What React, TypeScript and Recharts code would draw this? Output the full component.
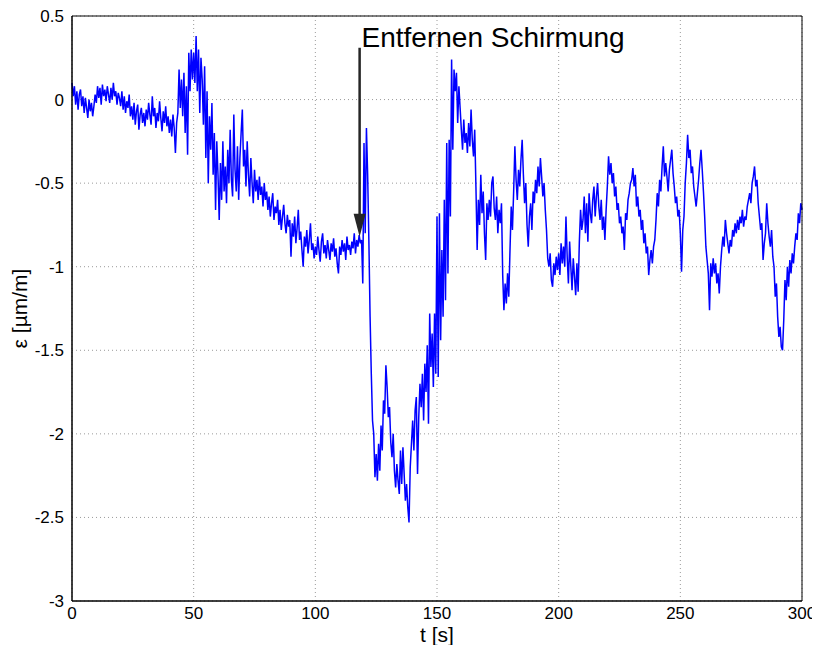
import React from "react";
import {
  LineChart,
  Line,
  XAxis,
  YAxis,
  CartesianGrid,
  ReferenceLine,
  ReferenceDot,
} from "recharts";

// strain in µm/m, one sample every 0.5 s
const T_STEP = 0.5;

const strain000 = [
  0.1, 0.02, 0.08, -0.03, 0.05, -0.06, 0.03, 0.06, -0.04, 0.02,
  -0.08, 0.01, -0.05, -0.11, 0.0, -0.07, -0.02, -0.1, -0.04, 0.03,
  -0.02, 0.08, 0.01, 0.07, -0.03, 0.09, 0.02, 0.06, -0.01, 0.08,
  0.03, -0.02, 0.07, 0.0, 0.1, 0.02, 0.05, -0.03, 0.04, 0.01,
  -0.04, 0.05, -0.06, 0.02, -0.08, -0.01, -0.05, 0.03, -0.1, -0.04,
  -0.12, -0.02, -0.15, -0.07, -0.03, -0.18, -0.09, -0.05, -0.14, -0.08,
  -0.16, -0.06, -0.12, -0.02, -0.09, -0.15, 0.02, -0.1, -0.05, -0.17,
  -0.08, -0.13, -0.01, -0.11, -0.19, -0.07, -0.14, -0.04, -0.16, -0.1,
  -0.2, -0.12, -0.22, -0.09, -0.17, -0.32, -0.14, -0.08, 0.18, -0.05,
  0.12, -0.1, 0.16, -0.2, 0.08, -0.33, 0.28, 0.05, 0.3, 0.12,
];

const strain050 = [
  0.28, 0.1, 0.38, 0.05, 0.3, -0.08, 0.25, 0.12, -0.15, 0.2,
  -0.35, 0.05, -0.5, -0.1, -0.3, -0.02, -0.45, -0.2, -0.66, -0.25,
  -0.45, -0.72, -0.38, -0.6, -0.25, -0.55, -0.4, -0.62, -0.3, -0.5,
  -0.18, -0.48, -0.58, -0.09, -0.42, -0.55, -0.28, -0.6, -0.35, -0.2,
  -0.06, -0.4, -0.3, -0.52, -0.25, -0.45, -0.58, -0.35, -0.5, -0.62,
  -0.42, -0.55, -0.48, -0.6, -0.46, -0.57, -0.52, -0.64, -0.5, -0.6,
  -0.55, -0.66, -0.58, -0.7, -0.62, -0.56, -0.72, -0.64, -0.68, -0.6,
  -0.75, -0.66, -0.78, -0.7, -0.63, -0.74, -0.8, -0.69, -0.76, -0.72,
  -0.94, -0.74, -0.82, -0.7, -0.86, -0.77, -0.66, -0.84, -0.79, -0.9,
  -1.0, -0.82, -0.88, -0.78, -0.92, -0.84, -0.74, -0.9, -0.86, -0.95,
];

const strain100 = [
  -0.88, -0.93, -0.82, -0.9, -0.97, -0.85, -0.8, -0.92, -0.87, -0.95,
  -0.84, -0.9, -0.96, -0.86, -0.91, -0.83, -0.94, -0.89, -0.98, -1.04,
  -0.88, -0.93, -0.84, -0.91, -0.86, -0.96, -0.82, -0.9, -0.87, -0.93,
  -0.85, -0.89, -0.8, -0.92, -0.84, -0.88, -0.81, -0.86, -0.84, -1.1,
  -0.26, -0.8, -0.17, -0.45, -0.84, -1.3, -1.64, -1.92, -2.0, -2.26,
  -2.12, -2.28, -2.06, -2.22, -1.95, -2.1, -1.8, -1.88, -1.59, -1.72,
  -1.9, -1.84, -2.05, -2.14, -2.0, -2.22, -2.32, -2.18, -2.28, -2.36,
  -2.1, -2.3, -2.08, -2.24, -2.4, -2.3, -2.44, -2.53, -2.2, -2.06,
  -1.92, -2.1, -1.86, -1.78, -2.24, -1.9, -1.7, -1.84, -1.64, -1.92,
  -1.58, -1.75, -1.47, -1.94, -1.28, -1.6, -1.4, -1.72, -1.28, -1.64,
];

const strain150 = [
  -0.7, -1.66, -0.68, -1.44, -0.9, -1.3, -0.6, -1.2, -0.26, -1.04,
  -0.24, -0.7, 0.24, -0.3, 0.18, 0.05, 0.16, -0.14, 0.08, -0.05,
  -0.18, -0.3, -0.12, -0.26, -0.2, -0.32, -0.14, -0.28, -0.06, -0.24,
  -0.34, -0.18, -0.52, -0.9, -0.6, -0.75, -0.45, -0.68, -0.55, -0.8,
  -0.96, -0.62, -0.72, -0.6, -0.7, -0.5, -0.46, -0.65, -0.72, -0.58,
  -0.8, -0.66, -0.74, -0.62, -1.05, -1.26, -1.1, -1.22, -1.04, -1.18,
  -0.9, -0.64, -0.78, -0.55, -0.28, -0.48, -0.6, -0.42, -0.52, -0.36,
  -0.24, -0.45, -0.62, -0.5, -0.75, -0.88, -0.7, -0.62, -0.78, -0.55,
  -0.62, -0.48, -0.56, -0.4, -0.52, -0.35, -0.46, -0.58, -0.5, -0.66,
  -0.78, -0.95, -1.0, -0.92, -1.08, -1.12, -0.98, -1.05, -0.94, -1.02,
];

const strain200 = [
  -0.92, -1.05, -0.86, -0.98, -0.88, -1.0, -0.7, -0.94, -1.1, -0.85,
  -1.0, -1.14, -0.95, -1.06, -1.17, -0.98, -1.15, -0.85, -0.66, -0.78,
  -0.72, -0.58, -0.8, -0.62, -0.85, -0.56, -0.68, -0.74, -0.6, -0.52,
  -0.7, -0.58, -0.5, -0.64, -0.72, -0.6, -0.78, -0.7, -0.84, -0.66,
  -0.52, -0.34, -0.45, -0.38, -0.5, -0.44, -0.58, -0.52, -0.66, -0.62,
  -0.74, -0.7, -0.8, -0.76, -0.9, -0.68, -0.72, -0.6, -0.56, -0.5,
  -0.48, -0.41, -0.52, -0.45, -0.64, -0.58, -0.7, -0.66, -0.78, -0.72,
  -0.86, -0.8, -0.92, -0.88, -1.05, -0.96, -0.9, -0.98, -0.88, -0.84,
  -0.72, -0.56, -0.64, -0.48, -0.55, -0.4, -0.28, -0.46, -0.38, -0.46,
  -0.55, -0.42, -0.36, -0.3, -0.44, -0.52, -0.62, -0.58, -0.7, -0.66,
];

const strain250 = [
  -0.8, -1.03, -0.78, -0.7, -0.5, -0.38, -0.21, -0.35, -0.3, -0.44,
  -0.4, -0.52, -0.58, -0.64, -0.56, -0.48, -0.38, -0.3, -0.42, -0.55,
  -0.7, -0.88, -0.96, -1.04, -1.26, -0.98, -1.06, -0.95, -1.04, -0.98,
  -1.1, -1.04, -1.16, -1.0, -0.9, -0.82, -0.88, -0.72, -0.8, -0.86,
  -0.92, -0.84, -0.88, -0.78, -0.82, -0.74, -0.8, -0.72, -0.78, -0.7,
  -0.74, -0.66, -0.76, -0.7, -0.72, -0.64, -0.6, -0.56, -0.62, -0.5,
  -0.46, -0.4, -0.52, -0.48, -0.62, -0.7, -0.78, -0.74, -0.96, -0.86,
  -0.8, -0.62, -0.74, -0.82, -0.88, -0.78, -0.94, -1.0, -1.18, -1.1,
  -1.3, -1.42, -1.36, -1.48, -1.5, -1.32, -1.08, -1.2, -1.0, -1.12,
  -0.96, -1.04, -0.92, -0.98, -0.88, -0.8, -0.84, -0.68, -0.74, -0.62,
  -0.66,
];

const T_TICKS = [0, 50, 100, 150, 200, 250, 300];
const EPS_TICKS = [-3, -2.5, -2, -1.5, -1, -0.5, 0, 0.5];

// annotation: arrow pointing at the moment the shield is removed
const NOTE_TEXT = "Entfernen Schirmung";
const NOTE_T = 118.2;
const NOTE_ARROW_TOP = 0.31;
const NOTE_HEAD_BASE = -0.69;
const NOTE_ARROW_TIP = -0.82;
const NOTE_TEXT_T = 119;
const NOTE_TEXT_EPS = 0.315;

const FONT = '"Liberation Sans", Arial, Helvetica, sans-serif';

const data = [
  ...strain000,
  ...strain050,
  ...strain100,
  ...strain150,
  ...strain200,
  ...strain250,
].map((eps, i) => ({ t: i * T_STEP, eps }));

const ArrowHead = (props: any) => {
  const { cx, cy } = props;
  if (cx == null || cy == null) return <g />;
  return (
    <polygon
      points={`${cx},${cy} ${cx - 6},${cy - 23} ${cx + 6},${cy - 23}`}
      fill="#262626"
    />
  );
};

const NoteText = (props: any) => {
  const { cx, cy } = props;
  if (cx == null || cy == null) return <g />;
  return (
    <text x={cx} y={cy} fontSize={28} fontFamily={FONT} fill="#000">
      {NOTE_TEXT}
    </text>
  );
};

export default function App() {
  const tickStyle = { fill: "#000", fontSize: 17, fontFamily: FONT };
  const frame = { stroke: "#000", strokeWidth: 1 };

  return (
    <div style={{ width: 804, height: 637, overflow: "visible" }}>
      <style>{`
        html, body { overflow: hidden; }
        .recharts-wrapper, .recharts-surface { overflow: visible !important; }
      `}</style>
      <LineChart
        width={804}
        height={637}
        data={data}
        margin={{ top: 8, right: 10, left: 0, bottom: 0 }}
      >
        <CartesianGrid stroke="#9a9a9a" strokeDasharray="1 3" />
        <XAxis
          dataKey="t"
          type="number"
          domain={[0, 300]}
          ticks={T_TICKS}
          interval={0}
          height={44}
          tickLine={false}
          tickSize={0}
          tickMargin={6}
          axisLine={frame}
          tick={tickStyle}
          label={{
            value: "t [s]",
            position: "insideBottom",
            offset: 3,
            style: { fill: "#000", fontSize: 21, fontFamily: FONT },
          }}
        />
        <XAxis
          xAxisId="topFrame"
          orientation="top"
          mirror
          type="number"
          domain={[0, 300]}
          ticks={T_TICKS}
          interval={0}
          tick={false}
          tickSize={6}
          tickLine={frame}
          axisLine={frame}
        />
        <XAxis
          xAxisId="bottomTicks"
          orientation="bottom"
          mirror
          type="number"
          domain={[0, 300]}
          ticks={T_TICKS}
          interval={0}
          tick={false}
          tickSize={6}
          tickLine={frame}
          axisLine={frame}
        />
        <YAxis
          type="number"
          domain={[-3, 0.5]}
          ticks={EPS_TICKS}
          interval={0}
          width={64}
          tickLine={false}
          tickSize={0}
          tickMargin={8}
          axisLine={frame}
          tick={tickStyle}
          label={{
            value: "ε [µm/m]",
            angle: -90,
            position: "insideLeft",
            offset: 12,
            style: {
              fill: "#000",
              fontSize: 21,
              fontFamily: FONT,
              textAnchor: "middle",
            },
          }}
        />
        <YAxis
          yAxisId="leftTicks"
          orientation="left"
          mirror
          type="number"
          domain={[-3, 0.5]}
          ticks={EPS_TICKS}
          interval={0}
          tick={false}
          tickSize={6}
          tickLine={frame}
          axisLine={frame}
        />
        <YAxis
          yAxisId="rightFrame"
          orientation="right"
          mirror
          type="number"
          domain={[-3, 0.5]}
          ticks={EPS_TICKS}
          interval={0}
          tick={false}
          tickSize={6}
          tickLine={frame}
          axisLine={frame}
        />
        <Line
          type="linear"
          dataKey="eps"
          stroke="#0000ff"
          strokeWidth={1.5}
          dot={false}
          activeDot={false}
          isAnimationActive={false}
        />
        <ReferenceLine
          segment={[
            { x: NOTE_T, y: NOTE_ARROW_TOP },
            { x: NOTE_T, y: NOTE_HEAD_BASE },
          ]}
          stroke="#262626"
          strokeWidth={2.5}
        />
        <ReferenceDot x={NOTE_T} y={NOTE_ARROW_TIP} shape={ArrowHead} />
        <ReferenceDot x={NOTE_TEXT_T} y={NOTE_TEXT_EPS} shape={NoteText} />
      </LineChart>
    </div>
  );
}
